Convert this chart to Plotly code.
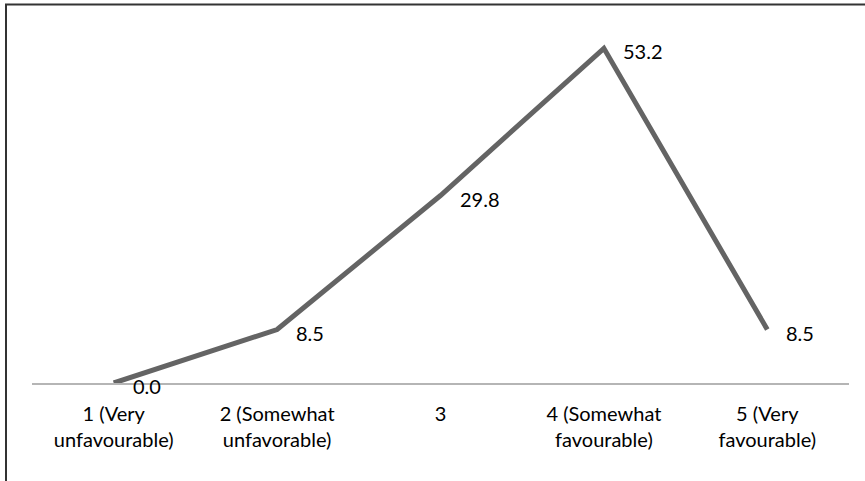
import plotly.graph_objects as go

# Survey response distribution (%)
categories = [
    "1 (Very<br>unfavourable)",
    "2 (Somewhat<br>unfavorable)",
    "3",
    "4 (Somewhat<br>favourable)",
    "5 (Very<br>favourable)",
]
values = [0.0, 8.5, 29.8, 53.2, 8.5]

W, H = 865, 481
ML, MR, MT, MB = 32, 16, 37, 97.5
PW, PH = W - ML - MR, H - MT - MB

FONT = "Lato"
LINE_COLOR = "#646464"

fig = go.Figure()
fig.add_trace(go.Scatter(
    x=categories,
    y=values,
    mode="lines",
    line=dict(color=LINE_COLOR, width=5),
    hoverinfo="skip",
    showlegend=False,
))

# value labels to the right of each point (category index positions)
for i, v in enumerate(values):
    fig.add_annotation(
        x=i, y=v, xref="x", yref="y", text=f"{v:.1f}", showarrow=False,
        xanchor="left", yanchor="middle", xshift=17, yshift=-3,
        font=dict(family=FONT, size=20, color="#000000"),
    )


def px_x(p):
    return (p - ML) / PW


def px_y(p):
    return (H - MB - p) / PH


# outer frame: top and left edges
frame = dict(color="#333333", width=2)
fig.add_shape(type="line", xref="paper", yref="paper",
              x0=px_x(5), x1=px_x(866), y0=px_y(4.5), y1=px_y(4.5), line=frame)
fig.add_shape(type="line", xref="paper", yref="paper",
              x0=px_x(6), x1=px_x(6), y0=px_y(4), y1=px_y(482), line=frame)

fig.update_layout(
    width=W, height=H,
    margin=dict(l=ML, r=MR, t=MT, b=MB, pad=0),
    paper_bgcolor="white", plot_bgcolor="white",
    font=dict(family=FONT, size=20, color="#000000"),
    xaxis=dict(
        type="category", range=[-0.5, 4.5],
        showgrid=False, zeroline=False,
        showline=True, linecolor="#b5b5b5", linewidth=2,
        ticks="", tickfont=dict(family=FONT, size=20, color="#000000"),
        ticklabelstandoff=12,
    ),
    yaxis=dict(
        range=[0, 55], visible=False, showgrid=False, zeroline=False,
    ),
)

fig.write_html("out.html")
